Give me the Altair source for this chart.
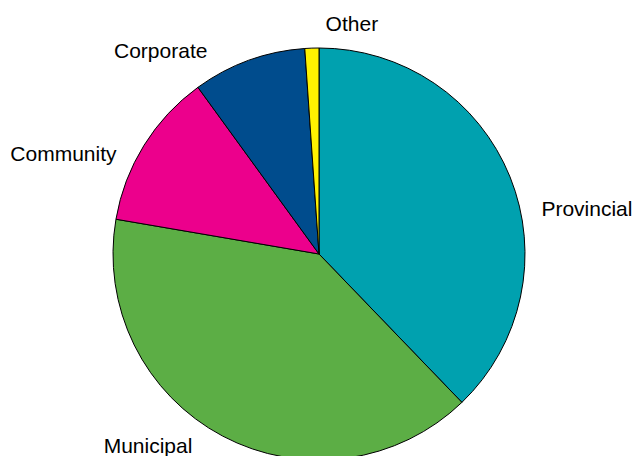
import altair as alt
import pandas as pd

# Data (percent shares, clockwise from 12 o'clock)
categories = ["Provincial", "Municipal", "Community", "Corporate", "Other"]
shares = [37.8, 39.9, 12.3, 8.9, 1.1]
colors = ["#00A1AF", "#5CAE45", "#EC008C", "#004C8D", "#FFF200"]

df = pd.DataFrame({
    "category": categories,
    "share": shares,
    "idx": list(range(len(categories))),
})

# Layout / style
CX, CY, R = 319, 254, 206
LABEL_R = 235
label_offsets = {
    "Provincial": (50, 50),
    "Municipal": (-61, -9),
    "Community": (-56, 31),
    "Corporate": (-78, 25),
    "Other": (41, 12),
}

base = alt.Chart(df)

pie = base.mark_arc(outerRadius=R, stroke="black", strokeWidth=1).encode(
    theta=alt.Theta("share:Q", stack=True),
    color=alt.Color("category:N", scale=alt.Scale(domain=categories, range=colors), legend=None),
    order=alt.Order("idx:Q"),
    x=alt.value(CX),
    y=alt.value(CY),
)

layers = [pie]
for cat in categories:
    dx, dy = label_offsets[cat]
    layers.append(
        base.transform_calculate(
            lbl=f"datum.category == '{cat}' ? datum.category : ''"
        ).mark_text(
            radius=LABEL_R, font="Liberation Sans", fontSize=21, color="black",
            align="center", baseline="alphabetic", dx=dx, dy=dy,
        ).encode(
            theta=alt.Theta("share:Q", stack=True),
            order=alt.Order("idx:Q"),
            detail="category:N",
            text="lbl:N",
            x=alt.value(CX),
            y=alt.value(CY),
        )
    )

chart = alt.layer(*layers).properties(
    width=636, height=456,
    autosize=alt.AutoSizeParams(type="none"),
    padding=0,
).configure_view(stroke=None)

chart.save("out.html", embed_options={"renderer": "svg", "actions": False})
